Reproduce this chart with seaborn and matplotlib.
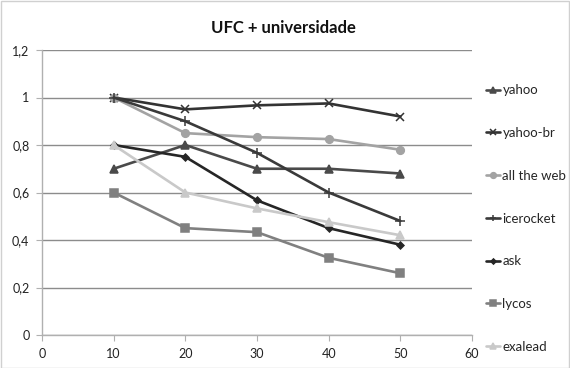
import matplotlib
matplotlib.use("Agg")
import matplotlib.pyplot as plt
from matplotlib.ticker import FuncFormatter
import pandas as pd
import seaborn as sns

x_values = [10, 20, 30, 40, 50]
yahoo = [0.70, 0.80, 0.70, 0.70, 0.68]
yahoo_br = [1.00, 0.95, 0.967, 0.975, 0.92]
all_the_web = [1.00, 0.85, 0.833, 0.825, 0.78]
icerocket = [1.00, 0.90, 0.767, 0.60, 0.48]
ask = [0.80, 0.75, 0.567, 0.45, 0.38]
lycos = [0.60, 0.45, 0.433, 0.325, 0.26]
exalead = [0.80, 0.60, 0.533, 0.475, 0.42]

series_names = ["yahoo", "yahoo-br", "all the web", "icerocket", "ask", "lycos", "exalead"]
series_values = [yahoo, yahoo_br, all_the_web, icerocket, ask, lycos, exalead]

colors = ["#4a4a4a", "#333333", "#a3a3a3", "#3a3a3a", "#262626", "#808080", "#c9c9c9"]
markers = ["^", "x", "o", "+", "D", "s", "^"]
msizes = [5.5, 5.5, 5.5, 6.5, 3.5, 5.5, 5.5]

df = pd.DataFrame(
    [(name, x, v) for name, vals in zip(series_names, series_values) for x, v in zip(x_values, vals)],
    columns=["engine", "x", "value"],
)

sns.set_style("white")
plt.rcParams["font.family"] = ["Lato", "DejaVu Sans"]

fig = plt.figure(figsize=(5.7, 3.68), dpi=100)
ax = fig.add_axes([42 / 570, 1 - 335 / 368, (472 - 42) / 570, (335 - 50) / 368])

for name, c, m, ms in zip(series_names, colors, markers, msizes):
    sub = df[df["engine"] == name]
    sns.lineplot(data=sub, x="x", y="value", ax=ax, color=c, marker=m, markersize=ms,
                 markeredgecolor=c, markeredgewidth=1.1, linewidth=1.9, label=name)

ax.set_xlim(0, 60)
ax.set_ylim(0, 1.2)
ax.set_xticks([0, 10, 20, 30, 40, 50, 60])
ax.set_yticks([0, 0.2, 0.4, 0.6, 0.8, 1.0, 1.2])
ax.yaxis.set_major_formatter(FuncFormatter(lambda v, p: ("%g" % round(v, 1)).replace(".", ",")))
ax.set_xlabel("")
ax.set_ylabel("")
ax.yaxis.grid(True, color="#8c8c8c", linewidth=1)
ax.set_axisbelow(True)
for s in ["top", "right"]:
    ax.spines[s].set_visible(False)
for s in ["left", "bottom"]:
    ax.spines[s].set_color("#b0b0b0")
    ax.spines[s].set_linewidth(1)
ax.tick_params(axis="both", which="both", length=4, color="#b0b0b0", direction="out",
               labelsize=9, labelcolor="#222222", left=True, bottom=True, pad=5)

leg = ax.legend(loc="upper left", bbox_to_anchor=(1.02, 0.898), frameon=False, fontsize=9.5,
                handlelength=1.1, handletextpad=0.15, labelspacing=2.33, borderaxespad=0,
                markerscale=0.75)

fig.text(283 / 570, 1 - 28 / 368, "UFC + universidade", ha="center", va="center",
         fontsize=12, fontweight="bold", color="#111111")

fig.patches.append(plt.Rectangle((0.001, 0.001), 0.997, 0.997, transform=fig.transFigure,
                                 fill=False, edgecolor="#d0d0d0", linewidth=1))

fig.savefig("out.png", dpi=100)
